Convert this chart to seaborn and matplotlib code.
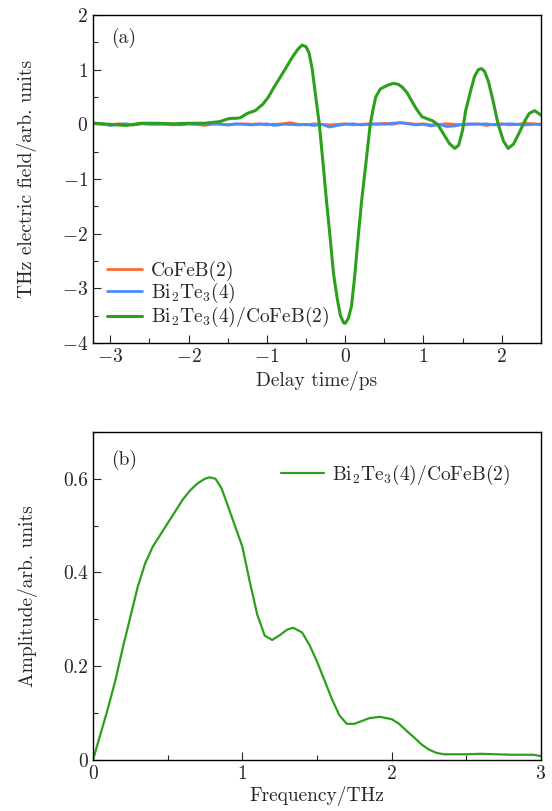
import numpy as np
import pandas as pd
import matplotlib
matplotlib.use("Agg")
import matplotlib.pyplot as plt
from matplotlib.ticker import MultipleLocator
import seaborn as sns

sns.set_theme(style="ticks")
plt.rcParams["font.family"] = "serif"
plt.rcParams["font.serif"] = ["cmr10"]
plt.rcParams["mathtext.fontset"] = "cm"
plt.rcParams["axes.formatter.use_mathtext"] = True
plt.rcParams["axes.unicode_minus"] = True

# (a) time domain, Bi2Te3(4)/CoFeB(2)
t_green = [-3.2, -3.0, -2.8, -2.6, -2.4, -2.2, -2.0, -1.8, -1.6, -1.5, -1.45, -1.4, -1.34,
           -1.25, -1.15, -1.05, -0.98, -0.9, -0.8, -0.72, -0.67, -0.6, -0.55, -0.5, -0.46,
           -0.42, -0.38, -0.33, -0.28, -0.24, -0.19, -0.15, -0.1, -0.06, -0.02, 0.0, 0.04,
           0.08, 0.12, 0.17, 0.21, 0.26, 0.32, 0.36, 0.39, 0.45, 0.55, 0.62, 0.68, 0.73,
           0.79, 0.84, 0.91, 0.98, 1.05, 1.11, 1.18, 1.25, 1.33, 1.4, 1.45, 1.5, 1.54,
           1.6, 1.65, 1.7, 1.74, 1.78, 1.83, 1.89, 1.95, 2.02, 2.08, 2.15, 2.22, 2.3,
           2.35, 2.42, 2.5]
e_green = [0.02, 0.0, -0.02, 0.02, 0.02, 0.01, 0.02, 0.02, 0.05, 0.1, 0.11, 0.11, 0.12,
           0.2, 0.25, 0.37, 0.5, 0.7, 0.93, 1.12, 1.24, 1.38, 1.45, 1.42, 1.3,
           1.0, 0.55, 0.0, -0.75, -1.38, -2.1, -2.72, -3.2, -3.5, -3.63, -3.64, -3.55,
           -3.33, -2.8, -2.0, -1.4, -0.77, 0.0, 0.3, 0.5, 0.65, 0.72, 0.75, 0.73, 0.68,
           0.58, 0.45, 0.28, 0.14, 0.1, 0.07, 0.0, -0.16, -0.35, -0.44, -0.38, -0.1, 0.26,
           0.6, 0.87, 1.0, 1.02, 0.97, 0.78, 0.42, 0.02, -0.3, -0.44, -0.36, -0.16, 0.08,
           0.2, 0.25, 0.17]

# (a) time domain, single layers (noise level)
t_ref = [round(-3.2 + 0.1 * i, 1) for i in range(58)]
e_cofeb = [0.01, 0.0, -0.01, 0.01, 0.0, -0.01, 0.01, 0.0, 0.01, 0.0, -0.01, 0.0, 0.01, 0.0,
           -0.02, 0.0, 0.01, -0.01, 0.0, 0.01, 0.0, 0.01, -0.01, 0.0, 0.01, 0.03, 0.0, -0.01,
           0.01, 0.0, -0.01, 0.0, 0.01, -0.01, 0.0, 0.01, 0.0, 0.02, 0.0, 0.03, 0.02, 0.0,
           0.01, -0.01, 0.0, 0.01, 0.0, -0.01, 0.0, 0.01, -0.02, 0.0, 0.01, -0.01, 0.0,
           0.02, 0.01, 0.0]
e_bite = [0.02, 0.01, -0.02, 0.0, 0.01, -0.01, 0.02, 0.01, 0.0, 0.01, 0.0, -0.01, 0.01,
          0.0, 0.01, 0.02, 0.0, -0.01, 0.01, 0.0, -0.01, 0.0, 0.01, -0.02, 0.0, 0.0, -0.01,
          0.0, -0.02, 0.0, -0.05, -0.02, 0.0, 0.01, -0.01, 0.0, 0.01, 0.0, 0.02, 0.03, 0.01,
          -0.01, 0.0, -0.03, 0.0, -0.04, -0.03, 0.0, 0.01, 0.0, 0.01, -0.01, 0.0, 0.01,
          0.0, -0.01, 0.0, 0.0]

# (b) spectrum
f_thz = [0.0, 0.05, 0.1, 0.15, 0.2, 0.25, 0.3, 0.35, 0.4, 0.45, 0.5, 0.55, 0.6, 0.65, 0.7,
         0.75, 0.78, 0.82, 0.86, 0.9, 0.95, 1.0, 1.05, 1.1, 1.15, 1.2, 1.25, 1.3, 1.34, 1.4,
         1.45, 1.5, 1.55, 1.6, 1.65, 1.7, 1.75, 1.8, 1.85, 1.92, 2.0, 2.05, 2.1, 2.15, 2.2,
         2.25, 2.3, 2.35, 2.5, 2.6, 2.8, 2.95, 3.0]
amp = [0.0, 0.055, 0.11, 0.17, 0.24, 0.305, 0.37, 0.42, 0.455, 0.48, 0.505, 0.53, 0.555,
       0.575, 0.59, 0.6, 0.603, 0.6, 0.58, 0.545, 0.5, 0.455, 0.38, 0.31, 0.265, 0.256,
       0.266, 0.278, 0.282, 0.272, 0.245, 0.21, 0.17, 0.13, 0.095, 0.077, 0.077, 0.083,
       0.089, 0.092, 0.087, 0.077, 0.062, 0.048, 0.033, 0.022, 0.015, 0.012, 0.012, 0.013,
       0.011, 0.011, 0.008]

lab_c = "CoFeB(2)"
lab_b = r"Bi$_2$Te$_3$(4)"
lab_bc = r"Bi$_2$Te$_3$(4)/CoFeB(2)"
c_orange = "#ff6a30"
c_blue = "#4a8cff"
c_green = "#2ca01c"

fig = plt.figure(figsize=(5.52, 8.11), dpi=100)
ax1 = fig.add_axes([0.1685, 0.577, 0.8115, 0.4045])
ax2 = fig.add_axes([0.1685, 0.063, 0.8115, 0.4045])

sns.lineplot(x=t_ref, y=e_cofeb, ax=ax1, color=c_orange, lw=2.0, label=lab_c, sort=False, estimator=None)
sns.lineplot(x=t_ref, y=e_bite, ax=ax1, color=c_blue, lw=2.0, label=lab_b, sort=False, estimator=None)
sns.lineplot(x=t_green, y=e_green, ax=ax1, color=c_green, lw=2.2, label=lab_bc, sort=False, estimator=None)
ax1.set_xlim(-3.22, 2.5)
ax1.set_ylim(-4, 2)
ax1.xaxis.set_major_locator(MultipleLocator(1))
ax1.xaxis.set_minor_locator(MultipleLocator(0.5))
ax1.yaxis.set_major_locator(MultipleLocator(1))
ax1.yaxis.set_minor_locator(MultipleLocator(0.5))
ax1.set_xlabel("Delay time/ps", fontsize=14)
ax1.set_ylabel("THz electric field/arb. units", fontsize=14, labelpad=18)
ax1.text(0.04, 0.915, "(a)", transform=ax1.transAxes, fontsize=14)
ax1.legend(loc="lower left", frameon=False, fontsize=14, handlelength=1.8,
           handletextpad=0.5, labelspacing=0.0, borderaxespad=0.3, bbox_to_anchor=(0.0, 0.0))

sns.lineplot(x=f_thz, y=amp, ax=ax2, color=c_green, lw=1.6, label=lab_bc, sort=False, estimator=None)
ax2.set_xlim(0, 3)
ax2.set_ylim(0, 0.7)
ax2.xaxis.set_major_locator(MultipleLocator(1))
ax2.xaxis.set_minor_locator(MultipleLocator(0.5))
ax2.yaxis.set_major_locator(MultipleLocator(0.2))
ax2.yaxis.set_minor_locator(MultipleLocator(0.1))
ax2.set_yticks([0, 0.2, 0.4, 0.6])
ax2.set_yticklabels(["0", "0.2", "0.4", "0.6"])
ax2.set_xlabel("Frequency/THz", fontsize=14, labelpad=2)
ax2.set_ylabel("Amplitude/arb. units", fontsize=14, labelpad=18)
ax2.text(0.04, 0.9, "(b)", transform=ax2.transAxes, fontsize=14)
ax2.legend(loc="upper right", frameon=False, fontsize=14, handlelength=2.2,
           handletextpad=0.4, borderaxespad=1.2)

for ax in (ax1, ax2):
    ax.tick_params(which="both", direction="in", top=False, right=False, labelsize=14)
    ax.tick_params(which="major", length=6, width=0.8)
    ax.tick_params(which="minor", length=3.5, width=0.8)
    for s in ax.spines.values():
        s.set_linewidth(1.0)
        s.set_color("black")

fig.savefig("out.png", dpi=100)
